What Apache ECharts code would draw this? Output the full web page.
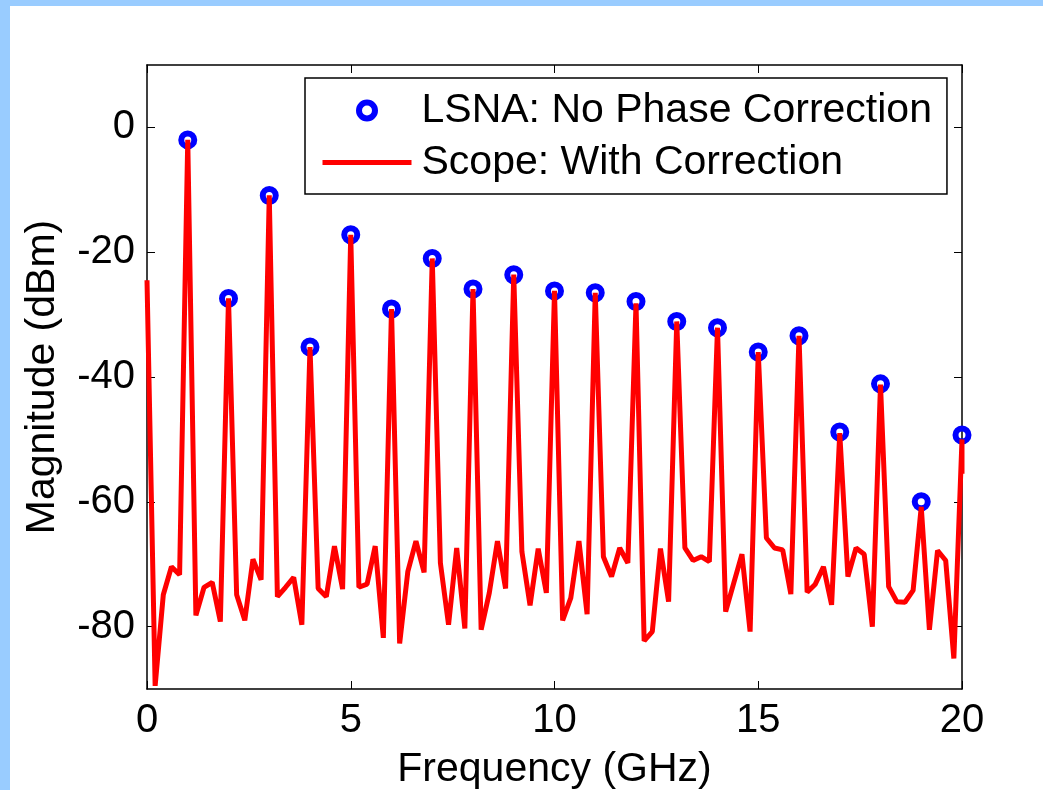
<!DOCTYPE html>
<html>
<head>
<meta charset="utf-8">
<script src="https://cdn.jsdelivr.net/npm/echarts@6/dist/echarts.min.js"></script>
<style>
  html, body { margin: 0; padding: 0; background: #99ccff; }
  #chart { position: absolute; left: 10px; top: 6px; width: 1033px; height: 784px; background: #fff; }
</style>
</head>
<body>
<div id="chart"></div>
<script>
// frequency grid of the scope trace (GHz)
var scopeFreq = [
  0, 0.2, 0.4, 0.6, 0.8, 1, 1.2, 1.4, 1.6, 1.8,
  2, 2.2, 2.4, 2.6, 2.8, 3, 3.2, 3.4, 3.6, 3.8,
  4, 4.2, 4.4, 4.6, 4.8, 5, 5.2, 5.4, 5.6, 5.8,
  6, 6.2, 6.4, 6.6, 6.8, 7, 7.2, 7.4, 7.6, 7.8,
  8, 8.2, 8.4, 8.6, 8.8, 9, 9.2, 9.4, 9.6, 9.8,
  10, 10.2, 10.4, 10.6, 10.8, 11, 11.2, 11.4, 11.6, 11.8,
  12, 12.2, 12.4, 12.6, 12.8, 13, 13.2, 13.4, 13.6, 13.8,
  14, 14.2, 14.4, 14.6, 14.8, 15, 15.2, 15.4, 15.6, 15.8,
  16, 16.2, 16.4, 16.6, 16.8, 17, 17.2, 17.4, 17.6, 17.8,
  18, 18.2, 18.4, 18.6, 18.8, 19, 19.2, 19.4, 19.6, 19.8,
  20, 20
];
// scope magnitude (dBm)
var scopeMag = [
  -24.5, -89.5, -74.9, -70.4, -71.7, -2.0, -78.2, -73.7, -72.9, -79.2,
  -27.4, -74.9, -79.0, -69.2, -72.5, -10.9, -75.2, -73.7, -72.1, -79.7,
  -35.2, -73.9, -75.2, -67.1, -74.0, -17.2, -73.7, -73.2, -67.1, -81.8,
  -29.1, -82.7, -71.2, -66.3, -71.3, -21.0, -69.8, -79.7, -67.4, -80.3,
  -25.9, -80.5, -74.6, -66.3, -73.9, -23.6, -68.0, -76.6, -67.5, -74.6,
  -26.2, -79.0, -75.4, -66.3, -78.0, -26.5, -68.8, -72.0, -67.4, -69.8,
  -28.2, -82.3, -80.8, -67.5, -76.0, -31.1, -67.4, -69.4, -68.8, -69.6,
  -32.1, -77.6, -73.0, -68.4, -80.8, -36.0, -65.8, -67.4, -67.7, -74.8,
  -33.4, -74.5, -73.2, -70.4, -76.5, -49.0, -72.0, -67.4, -68.4, -80.0,
  -41.2, -73.6, -76.0, -76.1, -74.2, -60.8, -80.5, -67.8, -69.4, -85.1,
  -50.0, -55.5
];
// LSNA harmonics
var lsnaFreq = [1, 2, 3, 4, 5, 6, 7, 8, 9, 10, 11, 12, 13, 14, 15, 16, 17, 18, 19, 20];
var lsnaMag = [-2.0, -27.4, -10.9, -35.2, -17.2, -29.1, -21.0, -25.9, -23.6, -26.2,
               -26.5, -27.9, -31.1, -32.1, -36.0, -33.4, -48.8, -41.1, -60.0, -49.3];
var yTicks = [-80, -60, -40, -20, 0];

function pairs(xs, ys) {
  var out = [];
  for (var i = 0; i < xs.length; i++) out.push([xs[i], ys[i]]);
  return out;
}

var FONT = 'Liberation Sans, Arial, sans-serif';
var frame = { show: true, onZero: false, lineStyle: { color: '#000', width: 1.5 } };
var tick = { show: true, inside: true, length: 8, lineStyle: { color: '#000', width: 1 } };
var yTick = { show: true, inside: true, length: 8, lineStyle: { color: '#000', width: 1 }, customValues: yTicks };

var chart = echarts.init(document.getElementById('chart'));
chart.setOption({
  animation: false,
  backgroundColor: '#fff',
  grid: { left: 137, right: 81, top: 59, bottom: 101, containLabel: false, outerBoundsMode: 'none' },
  legend: {
    orient: 'vertical',
    left: 295,
    top: 72,
    padding: [12, 15, 11, 15],
    itemGap: 11,
    itemWidth: 89,
    itemHeight: 16,
    borderColor: '#000',
    borderWidth: 1.5,
    backgroundColor: '#fff',
    textStyle: { fontFamily: FONT, fontSize: 41, color: '#000', padding: [0, 0, 0, 5] },
    data: [
      { name: 'LSNA: No Phase Correction', itemStyle: { borderWidth: 6, opacity: 1 } },
      { name: 'Scope: With Correction', lineStyle: { width: 5 }, itemStyle: { opacity: 0 } }
    ]
  },
  xAxis: [{
    type: 'value', min: 0, max: 20, interval: 5,
    name: 'Frequency (GHz)', nameLocation: 'middle', nameGap: 60,
    nameTextStyle: { fontFamily: FONT, fontSize: 41, color: '#000' },
    axisLine: frame, axisTick: tick, splitLine: { show: false },
    axisLabel: { fontFamily: FONT, fontSize: 40, color: '#000', margin: 12 }
  }, {
    type: 'value', min: 0, max: 20, interval: 5, position: 'top',
    axisLine: frame, axisTick: tick, splitLine: { show: false },
    axisLabel: { show: false }
  }],
  yAxis: [{
    type: 'value', min: -90, max: 10,
    name: 'Magnitude (dBm)', nameLocation: 'middle', nameGap: 84, nameRotate: 90,
    nameTextStyle: { fontFamily: FONT, fontSize: 41, color: '#000' },
    axisLine: frame, axisTick: yTick, splitLine: { show: false },
    axisLabel: { fontFamily: FONT, fontSize: 40, color: '#000', margin: 12, customValues: yTicks }
  }, {
    type: 'value', min: -90, max: 10, position: 'right',
    axisLine: frame, axisTick: yTick, splitLine: { show: false },
    axisLabel: { show: false }
  }],
  series: [{
    name: 'LSNA: No Phase Correction',
    type: 'scatter',
    symbol: 'circle',
    symbolSize: 13,
    clip: false,
    z: 2,
    itemStyle: { color: 'rgba(255,255,255,0)', borderColor: '#0000ff', borderWidth: 6, opacity: 1 },
    data: pairs(lsnaFreq, lsnaMag)
  }, {
    name: 'Scope: With Correction',
    type: 'line',
    symbol: 'none',
    showSymbol: false,
    clip: true,
    z: 3,
    lineStyle: { color: '#ff0000', width: 5 },
    itemStyle: { color: '#ff0000' },
    data: pairs(scopeFreq, scopeMag)
  }]
});
</script>
</body>
</html>
